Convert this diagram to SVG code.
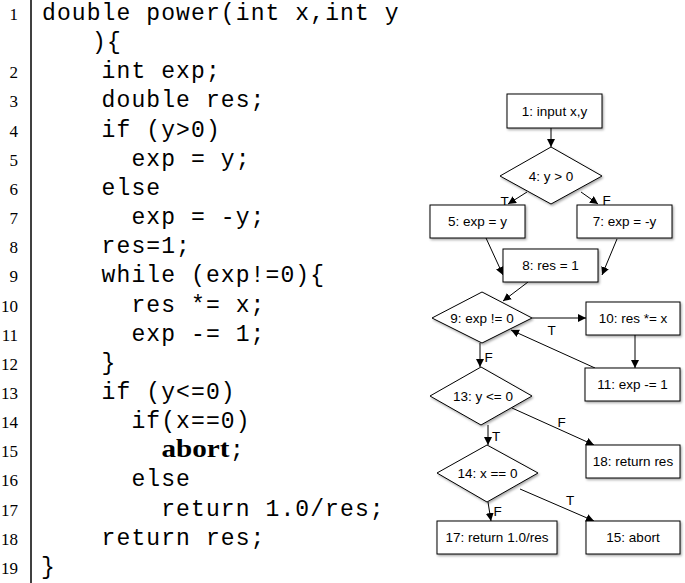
<svg xmlns="http://www.w3.org/2000/svg" width="685" height="583" viewBox="0 0 685 583">
<style>
.ln{font-family:"Liberation Serif",serif;font-size:17px;text-anchor:end;fill:#000}
.cd{font-family:"Liberation Mono",monospace;font-size:23px;letter-spacing:1.1px;fill:#000;white-space:pre}
.kw{font-family:"Liberation Serif",serif;font-size:26px;font-weight:bold;fill:#000}
.box{fill:#fff;stroke:#000;stroke-width:1}
.lbl{font-family:"Liberation Sans",Arial,sans-serif;font-size:13.5px;text-anchor:middle;fill:#000}
.el{font-family:"Liberation Sans",Arial,sans-serif;font-size:13.5px;fill:#000}
.edge{stroke:#000;stroke-width:1;fill:none;marker-end:url(#ah)}
</style>
<defs>
<marker id="ah" viewBox="0 0 10 10" refX="10" refY="5" markerWidth="8" markerHeight="8" markerUnits="userSpaceOnUse" orient="auto">
<path d="M0,0 L10,5 L0,10 z" fill="#000"/>
</marker>
<filter id="sh" x="-10%" y="-10%" width="130%" height="140%">
<feDropShadow dx="1.2" dy="1.5" stdDeviation="0.8" flood-color="#000" flood-opacity="0.35"/>
</filter>
</defs>
<rect width="685" height="583" fill="#fff"/>

<g id="code">
<line x1="31" y1="0" x2="31" y2="583" stroke="#000" stroke-width="1.5"/>
<text class="ln" x="18" y="20">1</text>
<text class="ln" x="18" y="78.3">2</text>
<text class="ln" x="18" y="107.45">3</text>
<text class="ln" x="18" y="136.6">4</text>
<text class="ln" x="18" y="165.75">5</text>
<text class="ln" x="18" y="194.9">6</text>
<text class="ln" x="18" y="224.05">7</text>
<text class="ln" x="18" y="253.2">8</text>
<text class="ln" x="18" y="282.35">9</text>
<text class="ln" x="18" y="311.5">10</text>
<text class="ln" x="18" y="340.65">11</text>
<text class="ln" x="18" y="369.8">12</text>
<text class="ln" x="18" y="398.95">13</text>
<text class="ln" x="18" y="428.1">14</text>
<text class="ln" x="18" y="457.25">15</text>
<text class="ln" x="18" y="486.4">16</text>
<text class="ln" x="18" y="515.55">17</text>
<text class="ln" x="18" y="544.7">18</text>
<text class="ln" x="18" y="573.85">19</text>

<text class="cd" x="42" y="20">double power(int x,int y</text>
<text class="cd" x="92" y="49.15">){</text>
<text class="cd" x="101.6" y="78.3">int exp;</text>
<text class="cd" x="101.6" y="107.45">double res;</text>
<text class="cd" x="101.6" y="136.6">if (y&gt;0)</text>
<text class="cd" x="131.4" y="165.75">exp = y;</text>
<text class="cd" x="101.6" y="194.9">else</text>
<text class="cd" x="131.4" y="224.05">exp = -y;</text>
<text class="cd" x="101.6" y="253.2">res=1;</text>
<text class="cd" x="101.6" y="282.35">while (exp!=0){</text>
<text class="cd" x="131.4" y="311.5">res *= x;</text>
<text class="cd" x="131.4" y="340.65">exp -= 1;</text>
<text class="cd" x="101.6" y="369.8">}</text>
<text class="cd" x="101.6" y="398.95">if (y&lt;=0)</text>
<text class="cd" x="131.4" y="428.1">if(x==0)</text>
<text class="kw" x="161.5" y="457.25" textLength="68" lengthAdjust="spacingAndGlyphs">abort</text>
<text class="cd" x="230" y="457.25">;</text>
<text class="cd" x="131.4" y="486.4">else</text>
<text class="cd" x="161.2" y="515.55">return 1.0/res;</text>
<text class="cd" x="101.6" y="544.7">return res;</text>
<text class="cd" x="41" y="573.85">}</text>
</g>

<g id="connectors">
<line class="edge" x1="551" y1="128" x2="551" y2="147"/>
<line class="edge" x1="527" y1="192" x2="508" y2="204"/>
<line class="edge" x1="581" y1="192" x2="598" y2="204"/>
<line class="edge" x1="486" y1="238" x2="503" y2="275"/>
<line class="edge" x1="617" y1="239" x2="602" y2="275"/>
<line class="edge" x1="528" y1="282" x2="503" y2="301"/>
<line class="edge" x1="532" y1="318" x2="586" y2="318"/>
<line class="edge" x1="635" y1="335" x2="635" y2="368"/>
<line class="edge" x1="595" y1="368" x2="511" y2="330"/>
<line class="edge" x1="480" y1="343" x2="480" y2="367"/>
<line class="edge" x1="512" y1="408" x2="594" y2="445"/>
<line class="edge" x1="488" y1="425" x2="488" y2="445"/>
<line class="edge" x1="488" y1="502" x2="491" y2="521"/>
<line class="edge" x1="520" y1="489" x2="594" y2="521"/>
<text class="el" x="500.5" y="206">T</text>
<text class="el" x="602.5" y="205">F</text>
<text class="el" x="547.5" y="334.5">T</text>
<text class="el" x="484.5" y="361.5">F</text>
<text class="el" x="557.5" y="427">F</text>
<text class="el" x="492" y="440.5">T</text>
<text class="el" x="493.5" y="515.5">F</text>
<text class="el" x="566" y="505">T</text>
</g>

<g id="n1"><rect class="box" filter="url(#sh)" x="507" y="94" width="95" height="34"/><text class="lbl" x="554.5" y="115.8">1: input x,y</text></g>
<g id="n4"><polygon class="box" filter="url(#sh)" points="551,147 602,176 551,204 500,176"/><text class="lbl" x="551" y="180.8">4: y &gt; 0</text></g>
<g id="n5"><rect class="box" filter="url(#sh)" x="430" y="205" width="95" height="33"/><text class="lbl" x="477.5" y="226.3">5: exp = y</text></g>
<g id="n7"><rect class="box" filter="url(#sh)" x="577" y="205" width="95" height="33"/><text class="lbl" x="624.5" y="226.3">7: exp = -y</text></g>
<g id="n8"><rect class="box" filter="url(#sh)" x="503" y="249" width="95" height="33"/><text class="lbl" x="550.5" y="270.3">8: res = 1</text></g>
<g id="n9"><polygon class="box" filter="url(#sh)" points="482,292 532,318 482,343 432,318"/><text class="lbl" x="482" y="322.8">9: exp != 0</text></g>
<g id="n10"><rect class="box" filter="url(#sh)" x="586" y="302" width="94" height="33"/><text class="lbl" x="633" y="323.3">10: res *= x</text></g>
<g id="n11"><rect class="box" filter="url(#sh)" x="585" y="368" width="95" height="33"/><text class="lbl" x="632.5" y="389.3">11: exp -= 1</text></g>
<g id="n13"><polygon class="box" filter="url(#sh)" points="481,367 532,396 481,425 430,396"/><text class="lbl" x="483" y="400.8">13: y &lt;= 0</text></g>
<g id="n18"><rect class="box" filter="url(#sh)" x="586" y="445" width="94" height="33"/><text class="lbl" x="633" y="466.3">18: return res</text></g>
<g id="n14"><polygon class="box" filter="url(#sh)" points="487,445 538,473 487,502 437,473"/><text class="lbl" x="487.5" y="477.8">14: x == 0</text></g>
<g id="n17"><rect class="box" filter="url(#sh)" x="437" y="521" width="120" height="33"/><text class="lbl" x="497" y="542.3">17: return 1.0/res</text></g>
<g id="n15"><rect class="box" filter="url(#sh)" x="586" y="521" width="94" height="33"/><text class="lbl" x="633" y="542.3">15: abort</text></g>
</svg>
